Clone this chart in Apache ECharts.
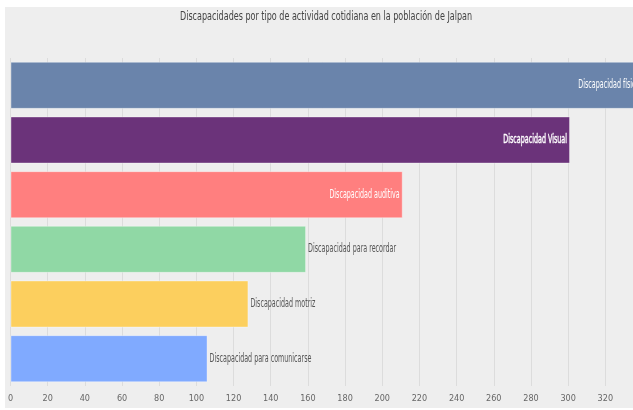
<!DOCTYPE html>
<html><head><meta charset="utf-8">
<style>html,body{margin:0;padding:0;background:#fff;}#c{width:633px;height:410px;}</style>
<script src="https://cdn.jsdelivr.net/npm/echarts@6/dist/echarts.min.js"></script>
</head><body><div id="c"></div>
<script>
const categories = ['Discapacidad física','Discapacidad Visual','Discapacidad auditiva','Discapacidad para recordar','Discapacidad motriz','Discapacidad para comunicarse'];
const values = [340, 301, 211, 159, 128, 106];
const colors = ['#6a84ab','#6b337a','#ff7f7f','#90d8a5','#fccf5e','#80aaff'];
const insideLabel = [true, true, true, false, false, false];
const boldLabel = [false, true, false, false, false, false];
const tickValues = [0,20,40,60,80,100,120,140,160,180,200,220,240,260,280,300,320,340];
const titleText = 'Discapacidades por tipo de actividad cotidiana en la población de Jalpan';

const FONT = '"DejaVu Sans Condensed", "DejaVu Sans", sans-serif';
const chart = echarts.init(document.getElementById('c'));
chart.setOption({
  animation: false,
  graphic: [
    {type:'rect', shape:{x:5,y:7,width:640,height:401}, style:{fill:'#eeeeee'}, z:-10, silent:true},
    {type:'text', x:326, y:17, scaleX:0.745, style:{text:titleText, align:'center', verticalAlign:'middle',
      fill:'#444', font:'normal 12px ' + FONT}, z:10, silent:true}
  ],
  grid: {left:10.5, top:58, width:632, height:328, containLabel:false, outerBoundsMode:'none'},
  xAxis: {type:'value', min:0, max:tickValues[tickValues.length-1], interval:20,
    axisLine:{show:false}, axisTick:{show:false},
    splitLine:{show:true, lineStyle:{color:'#dcdcdc', width:1}},
    axisLabel:{fontFamily:FONT, fontSize:9, color:'#666', margin:8}},
  yAxis: {type:'category', data:categories, inverse:true, axisLabel:{show:false}, axisLine:{show:false}, axisTick:{show:false}},
  series: [
    {type:'bar', barCategoryGap:'14%',
      data: values.map((v,i)=>({value:v, itemStyle:{color:colors[i], borderColor:'rgba(255,255,255,0.35)', borderWidth:1}}))
    },
    {type:'custom', z:5,
      data: values.map((v,i)=>[v,i]),
      encode:{x:0, y:1},
      renderItem: function(params, api){
        const i = api.value(1);
        const p = api.coord([api.value(0), i]);
        const inside = insideLabel[i];
        const style = {text:categories[i], align: inside?'right':'left', verticalAlign:'middle',
            fill: inside?'#fff':'#555', font:'normal 12px ' + FONT};
        if (boldLabel[i]) { style.stroke = '#fff'; style.lineWidth = 0.4; }
        return {type:'text', x: inside ? p[0]-3 : p[0]+2, y: p[1], scaleX:0.59, style: style};
      }
    }
  ]
});
</script></body></html>
